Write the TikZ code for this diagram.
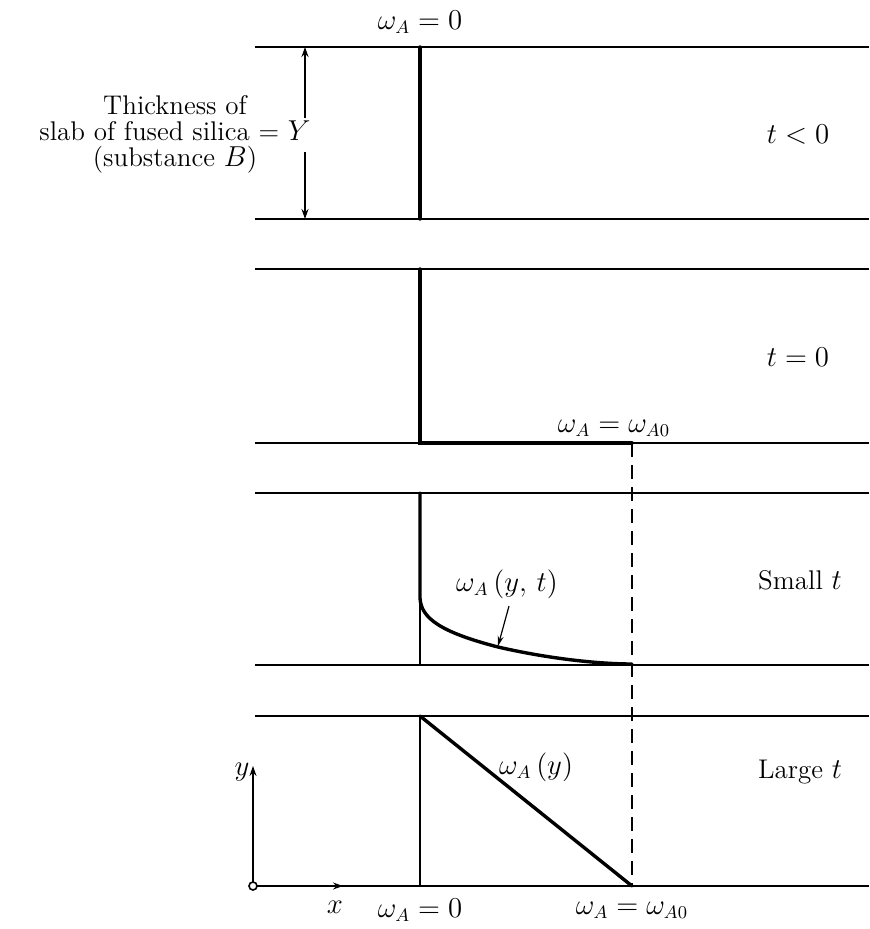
\documentclass[tikz,border=0pt]{standalone}
\usepackage{amsmath}
\usetikzlibrary{arrows.meta, positioning}

\begin{document}
\begin{tikzpicture}[
  x=0.5pt, y=-0.5pt,
  face/.style={line width=0.8pt},
  prof/.style={line width=1.7pt, line cap=round},
  guide/.style={line width=0.7pt, dash pattern=on 7pt off 4pt},
  dim/.style={line width=0.6pt, -{Stealth[length=5pt,width=3.5pt]}},
  lbl/.style={font=\fontsize{13.5}{13}\selectfont, inner sep=1pt},
]
\useasboundingbox (0,0) rectangle (869,929);

% slab faces, one pair per instant
\foreach \ytop/\ybot in {47/219, 269/443, 493/665, 716/886}
  \draw[face] (255,\ytop) -- (869,\ytop) (255,\ybot) -- (869,\ybot);

% t < 0
\draw[prof] (420,47) -- (420,219);
\node[lbl] (w0top) at (420,22) {$\omega_A = 0$};
\node[lbl] (tneg) at (798,135) {$t < 0$};
\node[lbl, align=center, anchor=east] (thick) at (313,134)
  {Thickness of\\slab of fused silica = $Y$\\(substance $B$)};
\coordinate (dimtop) at (305,47);
\coordinate (dimbot) at (305,219);
\coordinate (dimup) at (305,118);
\coordinate (dimdn) at (305,152);
\draw[dim] (dimup) -- (dimtop);
\draw[dim] (dimdn) -- (dimbot);

% t = 0
\draw[prof] (420,269) -- (420,443) -- (632,443);
\node[lbl] (tzero) at (798,357) {$t = 0$};
\node[lbl] (wA0mid) at (614,428) {$\omega_A = \omega_{A0}$};

% small t
\draw[face] (420,600) -- (420,665);
\draw[prof] (420,493) -- (420,598)
  .. controls (421,618) and (440,632) .. (498,647)
  .. controls (550,659) and (600,664) .. (632,664);
\node[lbl] (wyt) at (507,584) {$\omega_A\,(y,\,t)$};
\node[lbl] (tsmall) at (800,580) {Small $t$};
\draw[line width=0.6pt, -{Stealth[length=5pt,width=3pt]}] (509,606) -- (498,646);

% large t
\draw[face] (420,716) -- (420,886);
\draw[prof] (420,716) -- (632,886);
\node[lbl] (wy) at (536,767) {$\omega_A\,(y)$};
\node[lbl] (tlarge) at (800,772) {Large $t$};

% concentration limit
\draw[guide] (632,443) -- (632,886);

% axes
\coordinate (orig) at (253,886);
\draw[dim] (orig) -- (253,766);
\draw[dim] (orig) -- (343,886);
\draw[face, fill=white] (orig) circle (4);
\node[lbl] (yax) at (242,772) {$y$};
\node[lbl] (xax) at (335,907) {$x$};
\node[lbl] (w0bot) at (420,910) {$\omega_A = 0$};
\node[lbl] (wA0bot) at (632,910) {$\omega_A = \omega_{A0}$};

\end{tikzpicture}
\end{document}
